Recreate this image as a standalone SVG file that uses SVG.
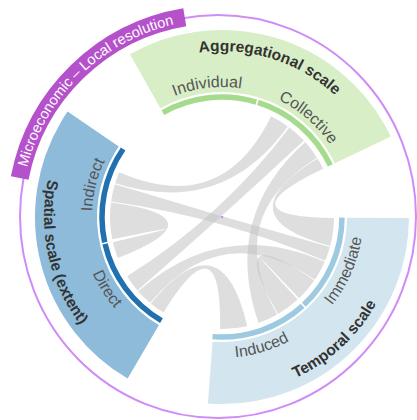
<svg xmlns="http://www.w3.org/2000/svg" width="417" height="420" viewBox="0 0 417 420">
<style>
.sector{fill:none;stroke-width:62}
.arc{fill:none;stroke-width:5.5}
.glab{font-family:"Liberation Sans",Arial,sans-serif;font-size:15.5px;font-weight:bold;fill:#333}
.slab{font-family:"Liberation Sans",Arial,sans-serif;font-size:16px;fill:#555}
.chord{fill:#c2c2c2;fill-opacity:0.55}
.banner{font-family:"Liberation Sans",Arial,sans-serif;font-size:14.5px;fill:#fff}
</style>
<defs>
<path id="pAgg" d="M 90.30 115.95 A 166 166 0 0 1 387.84 209.76"/>
<path id="pTem" d="M 140.54 374.14 A 177 177 0 0 0 385.41 148.98"/>
<path id="pSpa" d="M 126.10 67.04 A 178 178 0 0 0 199.07 393.52"/>
<path id="pInv" d="M 102.83 165.06 A 130 130 0 0 1 326.56 139.75"/>
<path id="pCol" d="M 179.57 94.12 A 130 130 0 0 1 349.63 241.69"/>
<path id="pInd" d="M 131.69 310.51 A 130 130 0 0 1 186.17 92.04"/>
<path id="pImm" d="M 237.59 357.14 A 141 141 0 0 0 335.55 133.41"/>
<path id="pIdu" d="M 125.84 320.12 A 141 141 0 0 0 359.39 248.72"/>
<path id="pDir" d="M 97.50 150.80 A 141 141 0 0 0 226.92 357.91"/>
<path id="pBan" d="M 38.38 297.41 A 197 197 0 0 1 303.59 39.06"/>
</defs>

<g id="resolution-ring">
<ellipse cx="218" cy="216.5" rx="198" ry="201.5" fill="none" stroke="#d08cf6" stroke-width="2"/>
</g>

<g id="aggregational-scale">
<circle class="sector" cx="222" cy="217" r="156" stroke="#d8eec6" stroke-dasharray="255.93 1000" transform="rotate(-119.5 222 217)"/>
<text class="glab"><textPath href="#pAgg" startOffset="50%" text-anchor="middle">Aggregational scale</textPath></text>
</g>
<g id="temporal-scale">
<circle class="sector" cx="222" cy="217" r="156" stroke="#d3e6ef" stroke-dasharray="255.93 1000" transform="rotate(0.3 222 217)"/>
<text class="glab"><textPath href="#pTem" startOffset="50%" text-anchor="middle">Temporal scale</textPath></text>
</g>
<g id="spatial-scale">
<circle class="sector" cx="222" cy="217" r="156" stroke="#8ebbda" stroke-dasharray="255.93 1000" transform="rotate(120.3 222 217)"/>
<text class="glab"><textPath href="#pSpa" startOffset="50%" text-anchor="middle">Spatial scale (extent)</textPath></text>
</g>

<g id="chords">
<path class="chord" d="M 115.18 183.32 A 112 112 0 0 1 119.29 172.34 Q 222 217 271.10 116.34 A 112 112 0 0 1 287.83 126.39 Q 222 217 115.18 183.32 Z"/>
<path class="chord" d="M 111.09 201.41 A 112 112 0 0 1 114.89 184.25 Q 222 217 329.93 246.93 A 112 112 0 0 1 325.10 260.76 Q 222 217 111.09 201.41 Z"/>
<path class="chord" d="M 112.25 239.33 A 112 112 0 0 1 110.96 202.38 Q 222 217 117.79 258.05 A 112 112 0 0 1 112.87 242.19 Q 222 217 112.25 239.33 Z"/>
<path class="chord" d="M 137.47 290.48 A 112 112 0 0 1 127.02 276.35 Q 222 217 289.40 127.55 A 112 112 0 0 1 303.91 140.62 Q 222 217 137.47 290.48 Z"/>
<path class="chord" d="M 150.01 302.80 A 112 112 0 0 1 138.12 291.21 Q 222 217 324.71 261.66 A 112 112 0 0 1 314.85 279.63 Q 222 217 150.01 302.80 Z"/>
<path class="chord" d="M 163.48 312.50 A 112 112 0 0 1 150.76 303.42 Q 222 217 247.19 326.13 A 112 112 0 0 1 220.05 328.98 Q 222 217 163.48 312.50 Z"/>
<path class="chord" d="M 314.30 280.44 A 112 112 0 0 1 299.10 298.24 Q 222 217 297.67 299.58 A 112 112 0 0 1 278.00 313.99 Q 222 217 314.30 280.44 Z"/>
<path class="chord" d="M 317.50 158.48 A 112 112 0 0 1 323.09 168.78 Q 222 217 333.99 217.98 A 112 112 0 0 1 330.18 245.99 Q 222 217 317.50 158.48 Z"/>
<path class="chord" d="M 305.23 142.06 A 112 112 0 0 1 316.98 157.65 Q 222 217 277.15 314.48 A 112 112 0 0 1 258.46 322.90 Q 222 217 305.23 142.06 Z"/>
</g>

<g id="individual">
<circle class="arc" cx="222" cy="217" r="120" stroke="#a6db8d" stroke-dasharray="96.55 1000" transform="rotate(-119.5 222 217)"/>
<text class="slab"><textPath href="#pInv" startOffset="50%" text-anchor="middle">Individual</textPath></text>
</g>
<g id="collective">
<circle class="arc" cx="222" cy="217" r="120" stroke="#a6db8d" stroke-dasharray="98.65 1000" transform="rotate(-72.6 222 217)"/>
<text class="slab"><textPath href="#pCol" startOffset="50%" text-anchor="middle">Collective</textPath></text>
</g>
<g id="immediate">
<circle class="arc" cx="222" cy="217" r="120" stroke="#9ecae1" stroke-dasharray="97.81 1000" transform="rotate(0.3 222 217)"/>
<text class="slab"><textPath href="#pImm" startOffset="50%" text-anchor="middle">Immediate</textPath></text>
</g>
<g id="induced">
<circle class="arc" cx="222" cy="217" r="120" stroke="#9ecae1" stroke-dasharray="97.81 1000" transform="rotate(47.8 222 217)"/>
<text class="slab"><textPath href="#pIdu" startOffset="50%" text-anchor="middle">Induced</textPath></text>
</g>
<g id="direct">
<circle class="arc" cx="222" cy="217" r="120" stroke="#2171b0" stroke-dasharray="97.81 1000" transform="rotate(120.3 222 217)"/>
<text class="slab"><textPath href="#pDir" startOffset="50%" text-anchor="middle">Direct</textPath></text>
</g>
<g id="indirect">
<circle class="arc" cx="222" cy="217" r="120" stroke="#2171b0" stroke-dasharray="97.81 1000" transform="rotate(167.8 222 217)"/>
<text class="slab"><textPath href="#pInd" startOffset="50%" text-anchor="middle">Indirect</textPath></text>
</g>

<g id="resolution-label">
<circle cx="218" cy="216.5" r="202" fill="none" stroke="#b551cb" stroke-width="18" stroke-dasharray="245 2000" transform="rotate(-169 218 216.5)"/>
<text class="banner"><textPath href="#pBan" startOffset="50%" text-anchor="middle">Microeconomic – Local resolution</textPath></text>
</g>

<g id="center-mark">
<rect x="221" y="216" width="2.2" height="2.2" fill="#d68cf5"/>
</g>
</svg>
